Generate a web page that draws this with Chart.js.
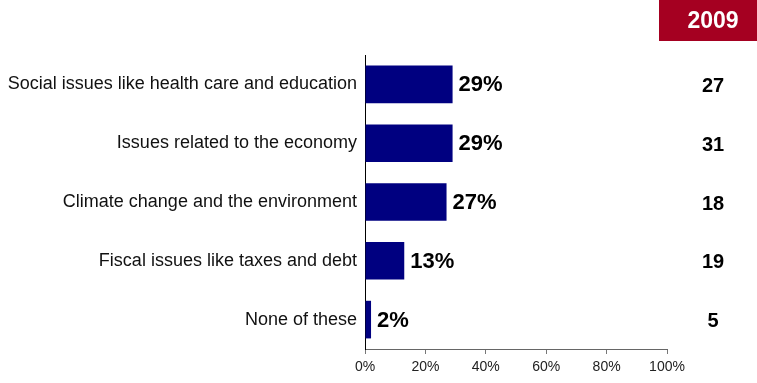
<!DOCTYPE html>
<html lang="en">
<head>
    <meta charset="UTF-8">
    <title>Issues 2009</title>
    <script src="https://cdn.jsdelivr.net/npm/chart.js"></script>
    <style>
        body { margin: 0; background: #fff; }
        .wrap { width: 757px; height: 383px; position: relative; }
    </style>
</head>
<body>
    <div class="wrap">
        <canvas id="issuesChart"></canvas>
    </div>

<script>
    // Categories and current values (%)
    const categories = [
        'Social issues like health care and education',
        'Issues related to the economy',
        'Climate change and the environment',
        'Fiscal issues like taxes and debt',
        'None of these'
    ];
    const values = [29, 29, 27, 13, 2];

    // Earlier year shown in the right column
    const compareYear = '2009';
    const compareValues = [27, 31, 18, 19, 5];

    const xTicks = [0, 20, 40, 60, 80, 100];

    const FONT = 'Liberation Sans, Arial, sans-serif';

    // Draws the % labels next to the bars and the 2009 column
    const sideLabels = {
        id: 'sideLabels',
        afterDatasetsDraw(chart) {
            const ctx = chart.ctx;
            const meta = chart.getDatasetMeta(0);
            ctx.save();

            ctx.font = 'bold 22px ' + FONT;
            ctx.fillStyle = '#000';
            ctx.textAlign = 'left';
            ctx.textBaseline = 'middle';
            meta.data.forEach((bar, i) => {
                ctx.fillText(values[i] + '%', bar.x + 6, bar.y + 1);
            });

            ctx.font = 'bold 20px ' + FONT;
            ctx.textAlign = 'center';
            meta.data.forEach((bar, i) => {
                ctx.fillText(String(compareValues[i]), 713, bar.y + 2);
            });

            // year header
            ctx.fillStyle = '#A50021';
            ctx.fillRect(659, 0, 98, 41);
            ctx.fillStyle = '#fff';
            ctx.font = 'bold 23px ' + FONT;
            ctx.fillText(compareYear, 713, 22);

            ctx.restore();
        }
    };

    const ctx = document.getElementById('issuesChart').getContext('2d');

    new Chart(ctx, {
        type: 'bar',
        data: {
            labels: categories,
            datasets: [{
                data: values,
                backgroundColor: '#000080',
                borderWidth: 0,
                categoryPercentage: 1,
                barPercentage: 0.64
            }]
        },
        options: {
            indexAxis: 'y',
            responsive: true,
            maintainAspectRatio: false,
            animation: false,
            layout: { padding: { top: 55, right: 90, left: 0, bottom: 0 } },
            plugins: {
                legend: { display: false },
                tooltip: { enabled: false }
            },
            scales: {
                x: {
                    min: 0,
                    max: 100,
                    afterBuildTicks: (scale) => {
                        scale.ticks = xTicks.map(v => ({ value: v }));
                    },
                    afterFit: (scale) => { scale.height = 34; },
                    grid: {
                        drawOnChartArea: false,
                        drawTicks: true,
                        tickLength: 5,
                        color: '#777'
                    },
                    border: { color: '#666', width: 1 },
                    ticks: {
                        padding: 5,
                        color: '#222',
                        font: { family: FONT, size: 14 },
                        callback: (v) => v + '%'
                    }
                },
                y: {
                    afterFit: (scale) => { scale.width = 365; },
                    grid: { display: false },
                    border: { display: true, color: '#000', width: 1 },
                    ticks: {
                        padding: 0,
                        color: '#111',
                        font: { family: FONT, size: 18 }
                    }
                }
            }
        },
        plugins: [sideLabels]
    });
</script>
</body>
</html>
